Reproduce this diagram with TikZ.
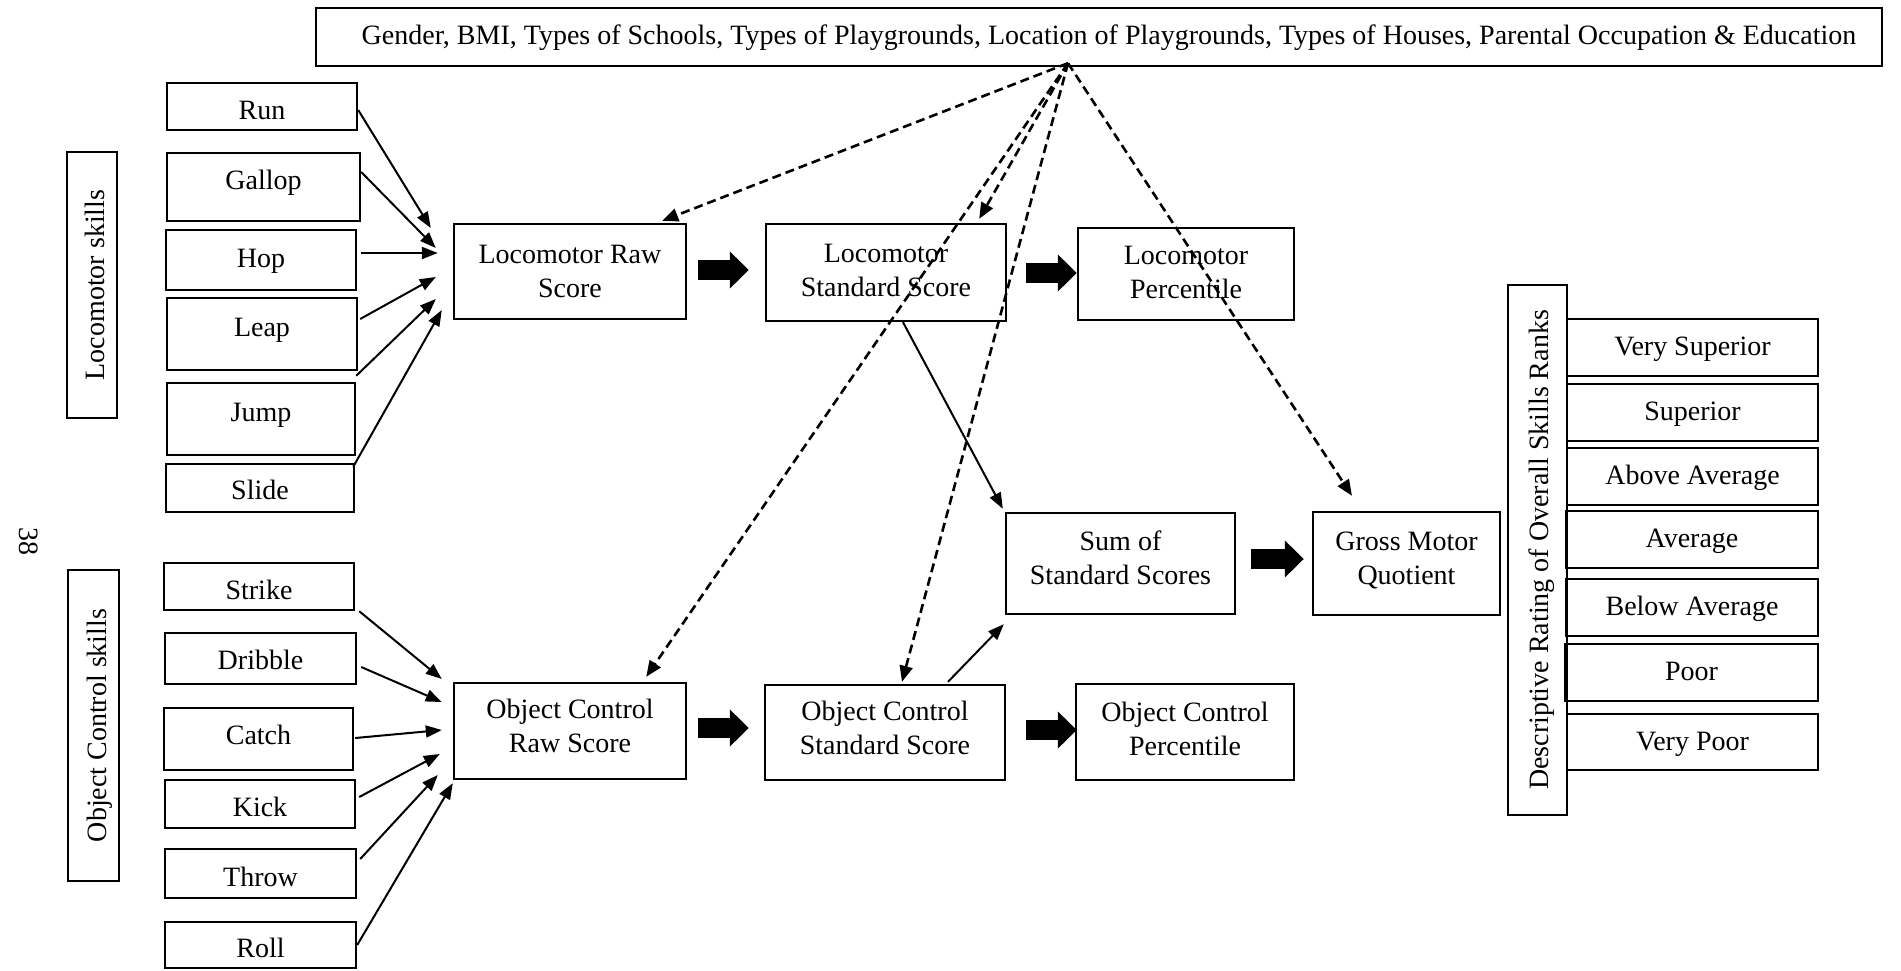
\documentclass[tikz,border=0pt]{standalone}
\usepackage{fontspec}
\setmainfont{Liberation Serif}
\usetikzlibrary{arrows.meta,calc}
\newcommand\bx[7][]{\node[box,#1,minimum width={(#5-#3)*0.5pt},minimum height={(#6-#4)*0.5pt}] (#2) at ({(#3+#5)/2},{(#4+#6)/2}) {#7};}
\begin{document}
\begin{tikzpicture}[x=0.5pt,y=-0.5pt,
  box/.style={draw, line width=1.2pt, inner sep=0pt, align=center, font=\fontsize{14}{17}\selectfont},
  tx/.style={text height=#1pt, text depth=3pt},
  tx/.default=11,
  twol/.style={text height=#1pt, text depth=3pt},
  arr/.style={line width=1pt, -{Triangle[length=8pt,width=6pt]}},
  darr/.style={line width=1.3pt, dash pattern=on 4.5pt off 2.5pt, -{Triangle[length=8pt,width=6.5pt]}},
  big/.style={line width=10pt, -{Triangle[length=9.5pt,width=18pt]}}]
\useasboundingbox (0,0) rectangle (1901,970);
% top factors
\bx[tx=10.2]{top}{316}{8}{1882}{66}{\hspace*{10pt}Gender, BMI, Types of Schools, Types of Playgrounds, Location of Playgrounds, Types of Houses, Parental Occupation \& Education}
% side labels
\node[box, rotate=90, tx=15.5, minimum width=133pt, minimum height=25pt] (lskills) at (92,285) {Locomotor skills};
\node[box, rotate=90, tx=15.5, minimum width=155.5pt, minimum height=25.5pt] (ocskills) at (93.5,725.5) {Object Control skills};
\node[font=\fontsize{14}{17}\selectfont, rotate=-90, inner sep=0pt] (pg) at (29,541) {38};
% locomotor skills
\bx[tx=15.7]{run}{167}{83}{357}{130}{Run}
\bx[tx=5.2]{gallop}{167}{153}{360}{221}{Gallop}
\bx[tx=10.2]{hop}{166}{230}{356}{290}{Hop}
\bx[tx=5.2]{leap}{167}{298}{357}{370}{Leap}
\bx[tx=5.2]{jump}{167}{383}{355}{455}{Jump}
\bx[tx=14.2]{slide}{166}{464}{354}{512}{Slide}
% object control skills
\bx[tx=15.7]{strike}{164}{563}{354}{610}{Strike}
\bx[tx=13.7]{dribble}{165}{633}{356}{684}{Dribble}
\bx[tx=8.2]{catch}{164}{708}{353}{770}{Catch}
\bx[tx=15.2]{kick}{165}{780}{355}{828}{Kick}
\bx[tx=15.7]{throw}{165}{849}{356}{898}{Throw}
\bx[tx=15.2]{roll}{165}{922}{356}{968}{Roll}
% scores
\bx[twol=29]{lraw}{454}{224}{686}{319}{Locomotor Raw\\Score}
\bx[twol=26.5]{lstd}{766}{224}{1006}{321}{Locomotor\\Standard Score}
\bx[twol=27.6]{lpct}{1078}{228}{1294}{320}{Locomotor\\Percentile}
\bx[twol=24.6]{ocraw}{454}{683}{686}{779}{Object Control\\Raw Score}
\bx[twol=25]{ocstd}{765}{685}{1005}{780}{Object Control\\Standard Score}
\bx[twol=26]{ocpct}{1076}{684}{1294}{780}{Object Control\\Percentile}
\bx[twol=23.5]{sum}{1006}{513}{1235}{614}{Sum of\\Standard Scores}
\bx[twol=23.5]{gmq}{1313}{512}{1500}{615}{Gross Motor\\Quotient}
% ranks
\node[box, rotate=90, tx=13.7, minimum width=265pt, minimum height=29.5pt] (desc) at (1537.5,550) {Descriptive Rating of Overall Skills Ranks};
\bx[tx]{vs}{1567}{319}{1818}{376}{Very Superior}
\bx[tx]{sup}{1567}{384}{1818}{441}{Superior}
\bx[tx]{aa}{1567}{448}{1818}{505}{Above Average}
\bx[tx]{avg}{1566}{511}{1818}{568}{Average}
\bx[tx]{ba}{1566}{579}{1818}{636}{Below Average}
\bx[tx]{poor}{1565}{644}{1818}{701}{Poor}
\bx[tx]{vp}{1567}{714}{1818}{770}{Very Poor}
% skill arrows
\draw[arr] ($(run.east)+(0,3.5)$) -- ($(lraw.west)+(-22,-43.5)$);
\draw[arr] ($(gallop.east)+(0,-15)$) -- ($(lraw.west)+(-17,-23.5)$);
\draw[arr] ($(hop.east)+(4,-7)$) -- ($(lraw.west)+(-15,-18.5)$);
\draw[arr] ($(leap.east)+(2,-15)$) -- ($(lraw.west)+(-17,5.5)$);
\draw[arr] ($(jump.north east)+(0,-6)$) -- ($(lraw.west)+(-17,27.5)$);
\draw[arr] ($(slide.north east)+(-2,4)$) -- ($(lraw.west)+(-11,38.5)$);
\draw[arr] ($(strike.south east)+(4,0)$) -- ($(ocraw.west)+(-11,-52)$);
\draw[arr] ($(dribble.east)+(4,8.5)$) -- ($(ocraw.west)+(-11,-29)$);
\draw[arr] ($(catch.east)+(1,-1)$) -- ($(ocraw.west)+(-11,-1)$);
\draw[arr] ($(kick.east)+(3,-7)$) -- ($(ocraw.west)+(-13,23)$);
\draw[arr] ($(throw.east)+(3,-14.5)$) -- ($(ocraw.west)+(-15,44)$);
\draw[arr] (roll.east) -- ($(ocraw.south west)+(0,3)$);
% block arrows
\draw[big] ($(lraw.east)+(11,-1.5)$) -- ($(lstd.west)+(-16,-2.5)$);
\draw[big] ($(lstd.east)+(19,0.5)$) -- ($(lpct.west)+(0,-1)$);
\draw[big] ($(sum.east)+(15,-4.5)$) -- ($(gmq.west)+(-8,-4.5)$);
\draw[big] ($(ocraw.east)+(11,-3)$) -- ($(ocstd.west)+(-15,-4.5)$);
\draw[big] ($(ocstd.east)+(20,-2.5)$) -- ($(ocpct.west)+(2,-2)$);
% standard scores to sum
\draw[arr] ($(lstd.south)+(17,0)$) -- ($(sum.north west)+(-2,-3)$);
\draw[arr] ($(ocstd.north)+(63,-2)$) -- ($(sum.south west)+(-1,9)$);
% dashed influences
\coordinate (src) at ($(top.south)+(-31,-4)$);
\draw[darr] (src) -- ($(lraw.north east)+(-25,-2)$);
\draw[darr] (src) -- ($(lstd.north east)+(-28,-4)$);
\draw[darr] (src) -- ($(ocraw.north east)+(-41,-5)$);
\draw[darr] (src) -- ($(ocstd.north)+(17,-2)$);
\draw[darr] (src) -- ($(gmq.north)+(-54.5,-15)$);
\end{tikzpicture}
\end{document}
